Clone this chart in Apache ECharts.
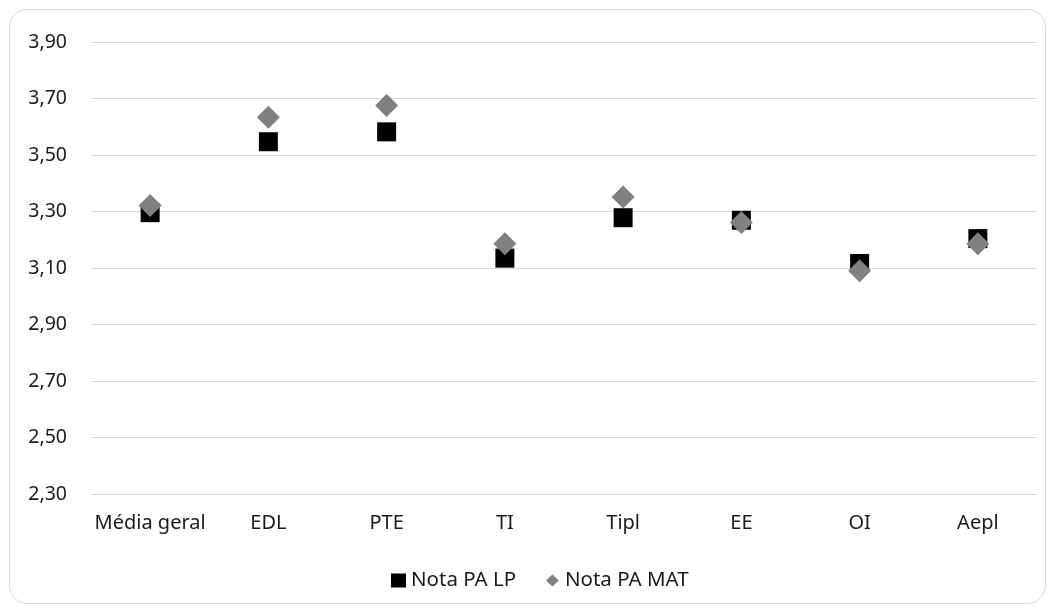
<!DOCTYPE html>
<html>
<head>
<meta charset="utf-8">
<script src="https://cdn.jsdelivr.net/npm/echarts@6/dist/echarts.min.js"></script>
<style>
  html, body { margin: 0; padding: 0; background: #fff; }
  #chart { width: 1055px; height: 612px; }
</style>
</head>
<body>
<div id="chart"></div>
<script>
// Chart data
const categories = ['Média geral', 'EDL', 'PTE', 'TI', 'Tipl', 'EE', 'OI', 'Aepl'];
const notaLP = [3.296, 3.547, 3.582, 3.135, 3.278, 3.269, 3.116, 3.204];
const notaMAT = [3.321, 3.634, 3.675, 3.186, 3.351, 3.261, 3.090, 3.186];
const yTicks = { min: 2.3, max: 3.9, step: 0.2 };

const FONT = "'Noto Sans', 'Open Sans', sans-serif";
const TEXT_COLOR = '#1a1a1a';

// Formats value with comma decimal separator
function fmt(v) {
    return Number(v).toFixed(2).replace('.', ',');
}

const chart = echarts.init(document.getElementById('chart'));

chart.setOption({
    animation: false,
    textStyle: { fontFamily: FONT },
    graphic: [{
        type: 'rect',
        shape: { x: 9.5, y: 9.5, width: 1036, height: 594, r: 18 },
        style: { fill: 'none', stroke: '#d9d9d9', lineWidth: 1 },
        silent: true,
        z: -1
    }],
    grid: { left: 91, right: 18, top: 42, bottom: 118, containLabel: false },
    legend: {
        top: 565,
        left: 386,
        itemGap: 28,
        itemWidth: 15,
        itemHeight: 14,
        textStyle: { fontFamily: FONT, fontSize: 20.5, color: TEXT_COLOR },
        data: [
            { name: 'Nota PA LP', icon: 'rect', itemStyle: { color: '#000' } },
            {
                name: 'Nota PA MAT',
                icon: 'diamond',
                itemStyle: { color: '#808080', borderColor: '#fff', borderWidth: 1.5 }
            }
        ]
    },
    xAxis: {
        type: 'category',
        data: categories,
        axisLine: { show: false },
        axisTick: { show: false },
        axisLabel: { fontFamily: FONT, fontSize: 20, color: TEXT_COLOR, margin: 19, interval: 0 }
    },
    yAxis: {
        type: 'value',
        min: yTicks.min,
        max: yTicks.max,
        interval: yTicks.step,
        axisLine: { show: false },
        axisTick: { show: false },
        splitLine: { lineStyle: { color: '#d9d9d9', width: 1 } },
        axisLabel: { fontFamily: FONT, fontSize: 19.5, color: TEXT_COLOR, margin: 24, formatter: fmt }
    },
    series: [
        {
            name: 'Nota PA LP',
            type: 'scatter',
            symbol: 'rect',
            symbolSize: 19,
            itemStyle: { color: '#000', opacity: 1 },
            data: notaLP,
            z: 2
        },
        {
            name: 'Nota PA MAT',
            type: 'scatter',
            symbol: 'diamond',
            symbolSize: 23,
            itemStyle: { color: '#808080', opacity: 1 },
            data: notaMAT,
            z: 3
        }
    ]
});
</script>
</body>
</html>
